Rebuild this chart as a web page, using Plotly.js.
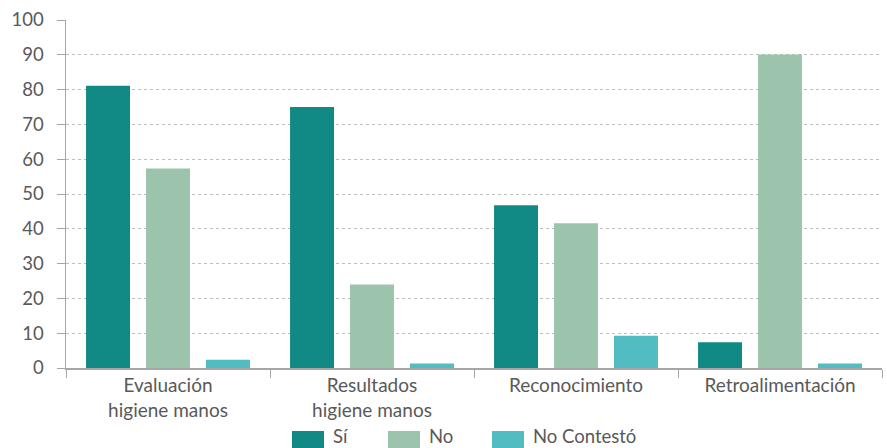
<!DOCTYPE html>
<html>
<head>
<meta charset="utf-8">
<script src="https://cdn.plot.ly/plotly-3.0.1.min.js"></script>
<style>
  html, body { margin: 0; padding: 0; background: #ffffff; }
  #chart { width: 887px; height: 448px; }
</style>
</head>
<body>
<div id="chart"></div>
<script>
// Categories on the x axis (line breaks shown as <br>)
const categories = [
  'Evaluación<br>higiene manos',
  'Resultados<br>higiene manos',
  'Reconocimiento',
  'Retroalimentación'
];

// Percentages per answer
const siValues = [81.1, 75.0, 46.8, 7.4];
const noValues = [57.3, 24.0, 41.6, 90.1];
const noContestoValues = [2.4, 1.3, 9.3, 1.3];

const seriesNames = ['Sí', 'No', 'No Contestó'];
const seriesColors = ['#118a85', '#9cc3ab', '#51bcc1'];

const yTicks = [0, 10, 20, 30, 40, 50, 60, 70, 80, 90, 100];

const seriesValues = [siValues, noValues, noContestoValues];
const traces = seriesValues.map((vals, i) => ({
  type: 'bar',
  name: seriesNames[i],
  x: categories,
  y: vals,
  marker: { color: seriesColors[i], line: { width: 0 } },
  hoverinfo: 'x+y+name',
  showlegend: false
}));

const fontFamily = 'Lato, "Open Sans", sans-serif';
const textGray = '#595959';
const axisGray = '#a6a6a6';

// Plot-area geometry used to place the legend row below the axis
const W = 887, H = 448;
const M = { l: 66, r: 5, t: 20, b: 80 };
const plotW = W - M.l - M.r;
const plotH = H - M.t - M.b;
const px2x = px => (px - M.l) / plotW;
const py2y = py => (H - M.b - py) / plotH;

// Legend row: wide colour swatch followed by the series name
const legendSwatchLeft = [292, 388, 492];
const swatchW = 32, swatchTop = 431, swatchBottom = 449;
const legendShapes = seriesNames.map((name, i) => ({
  type: 'rect', xref: 'paper', yref: 'paper',
  x0: px2x(legendSwatchLeft[i]), x1: px2x(legendSwatchLeft[i] + swatchW),
  y0: py2y(swatchBottom), y1: py2y(swatchTop),
  fillcolor: seriesColors[i], line: { width: 0 }, layer: 'above'
}));
const legendAnnotations = seriesNames.map((name, i) => ({
  xref: 'paper', yref: 'paper',
  x: px2x(legendSwatchLeft[i] + swatchW + 8), y: py2y(436),
  xanchor: 'left', yanchor: 'middle',
  text: name, showarrow: false, borderpad: 0,
  font: { family: fontFamily, size: 18.5, color: textGray }
}));

const layout = {
  width: W,
  height: H,
  margin: { l: M.l, r: M.r, t: M.t, b: M.b, pad: 0, autoexpand: false },
  paper_bgcolor: '#ffffff',
  plot_bgcolor: '#ffffff',
  barmode: 'group',
  bargap: 0.118,
  bargroupgap: 0.267,
  font: { family: fontFamily, size: 18, color: textGray },
  xaxis: {
    type: 'category',
    tickson: 'boundaries',
    ticks: 'outside',
    ticklen: 8,
    tickcolor: axisGray,
    tickwidth: 1,
    showline: true,
    linecolor: axisGray,
    linewidth: 1.5,
    showgrid: false,
    automargin: false,
    tickfont: { family: fontFamily, size: 19, color: textGray },
    fixedrange: true
  },
  yaxis: {
    range: [0, 100],
    tickvals: yTicks,
    ticktext: yTicks.map(String),
    ticks: 'outside',
    ticklen: 8,
    tickcolor: axisGray,
    tickwidth: 1,
    showline: true,
    linecolor: axisGray,
    linewidth: 1.5,
    showgrid: true,
    gridcolor: '#bfbfbf',
    griddash: 'dot',
    gridwidth: 1,
    zeroline: false,
    automargin: false,
    ticklabelstandoff: 9,
    tickfont: { family: fontFamily, size: 18.5, color: textGray },
    fixedrange: true
  },
  showlegend: false,
  shapes: legendShapes,
  annotations: legendAnnotations
};

Plotly.newPlot('chart', traces, layout, { displayModeBar: false, staticPlot: true });
</script>
</body>
</html>
